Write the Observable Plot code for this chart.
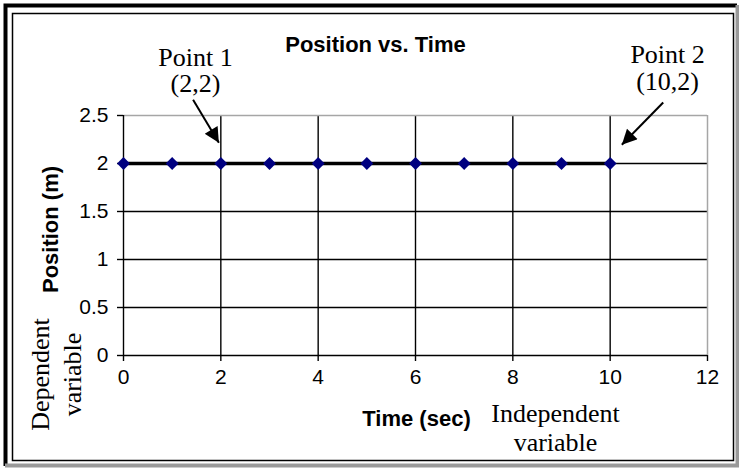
<!DOCTYPE html>
<html><head><meta charset="utf-8">
<script src="https://cdn.jsdelivr.net/npm/d3@7"></script>
<script src="https://cdn.jsdelivr.net/npm/@observablehq/plot@0.6"></script>
<style>body{margin:0;background:#fff}</style>
</head><body><div id="chart"></div>
<script>
const time = [0, 1, 2, 3, 4, 5, 6, 7, 8, 9, 10];
const position = [2, 2, 2, 2, 2, 2, 2, 2, 2, 2, 2];
const xTicks = [0, 2, 4, 6, 8, 10, 12];
const yTicks = [0, 0.5, 1, 1.5, 2, 2.5];
const title = "Position vs. Time";
const xLabel = "Time (sec)";
const yLabel = "Position (m)";
const pointLabels = ["Point 1\n(2,2)", "Point 2\n(10,2)"];
const pointLabelX = [1.48, 11.18];
const pointLabelY = [2.74, 2.77];
const arrowFromX = [1.44, 11.1];
const arrowFromY = [2.66, 2.63];
const arrowToX = [1.97, 10.25];
const arrowToY = [2.21, 2.19];
const noteX = "Independent\nvariable";
const noteY = "Dependent\nvariable";

const data = time.map((t, i) => ({t, p: position[i]}));
const labels = pointLabels.map((l, i) => ({l, x: pointLabelX[i], y: pointLabelY[i]}));
const sans = "Liberation Sans, Arial, sans-serif";
const serif = "Liberation Serif, Times New Roman, serif";
const fmt = d => String(d);

const plot = Plot.plot({
  width: 739, height: 468,
  marginLeft: 123, marginRight: 32, marginTop: 115, marginBottom: 113,
  style: {fontFamily: sans, fontSize: "21px", color: "#000", background: "#fff", overflow: "visible"},
  x: {domain: [0, 12]},
  y: {domain: [0, 2.5]},
  marks: [
    Plot.gridX([2, 4, 6, 8, 10], {stroke: "#000", strokeOpacity: 1, strokeWidth: 1.4}),
    Plot.gridY([0.5, 1, 1.5, 2], {stroke: "#000", strokeOpacity: 1, strokeWidth: 1.4}),
    Plot.ruleY([2.5], {stroke: "#a6a6a6", strokeWidth: 1.5}),
    Plot.ruleX([12], {stroke: "#a6a6a6", strokeWidth: 1.5}),
    Plot.ruleX([0], {stroke: "#000", strokeWidth: 1.4}),
    Plot.ruleY([0], {stroke: "#000", strokeWidth: 1.4}),
    Plot.axisX(xTicks, {tickSize: 6, tickPadding: 8, label: null, fontSize: 21, strokeWidth: 1.4, tickFormat: fmt}),
    Plot.axisY(yTicks, {tickSize: 6, tickPadding: 9, label: null, fontSize: 21, strokeWidth: 1.4, tickFormat: fmt}),
    Plot.line(data, {x: "t", y: "p", stroke: "#000", strokeWidth: 3.5}),
    Plot.dot(data, {x: "t", y: "p", symbol: "diamond2", r: 5.8, fill: "#000080", stroke: "none"}),
    Plot.text([title], {frameAnchor: "top", dx: -40, dy: -79, fontWeight: "bold", fontSize: 22}),
    Plot.text([yLabel], {frameAnchor: "left", textAnchor: "middle", rotate: -90, dx: -73, dy: -6, fontWeight: "bold", fontSize: 22}),
    Plot.text([xLabel], {frameAnchor: "bottom", dx: 1, dy: 70, fontWeight: "bold", fontSize: 22}),
    Plot.text([noteX], {frameAnchor: "bottom", dx: 140, dy: 46, lineAnchor: "top", fontFamily: serif, fontSize: 26, lineHeight: 1.12}),
    Plot.text([noteY], {frameAnchor: "bottom-left", textAnchor: "middle", rotate: -90, dx: -43, dy: 19, fontFamily: serif, fontSize: 26, lineHeight: 1.2}),
    Plot.text(labels, {x: "x", y: "y", text: "l", lineAnchor: "bottom", fontFamily: serif, fontSize: 26, lineHeight: 1.02})
  ]
});
document.getElementById("chart").appendChild(plot);

// arrows drawn through Plot's own scales
const sx = plot.scale("x"), sy = plot.scale("y");
const svg = d3.select(plot);
svg.append("defs").append("marker")
  .attr("id", "head").attr("viewBox", "0 0 10 10").attr("refX", 10).attr("refY", 5)
  .attr("markerWidth", 19).attr("markerHeight", 15).attr("markerUnits", "userSpaceOnUse")
  .attr("orient", "auto")
  .append("path").attr("d", "M0,0L10,5L0,10Z").attr("fill", "#000");
arrowFromX.forEach((_, i) => {
  svg.append("line")
    .attr("x1", sx.apply(arrowFromX[i])).attr("y1", sy.apply(arrowFromY[i]))
    .attr("x2", sx.apply(arrowToX[i])).attr("y2", sy.apply(arrowToY[i]))
    .attr("stroke", "#000").attr("stroke-width", 2).attr("marker-end", "url(#head)");
});

// outer frame
const fr = svg.append("g").attr("fill", "none");
fr.append("path").attr("d", "M5.5,466V5.5H737").attr("stroke", "#000").attr("stroke-width", 4);
fr.append("path").attr("d", "M5,465.5H737.5V5").attr("stroke", "#999").attr("stroke-width", 4);
fr.append("rect").attr("x", 12.5).attr("y", 13.5).attr("width", 721).attr("height", 447)
  .attr("stroke", "#000").attr("stroke-width", 1.5);
</script>
</body></html>
